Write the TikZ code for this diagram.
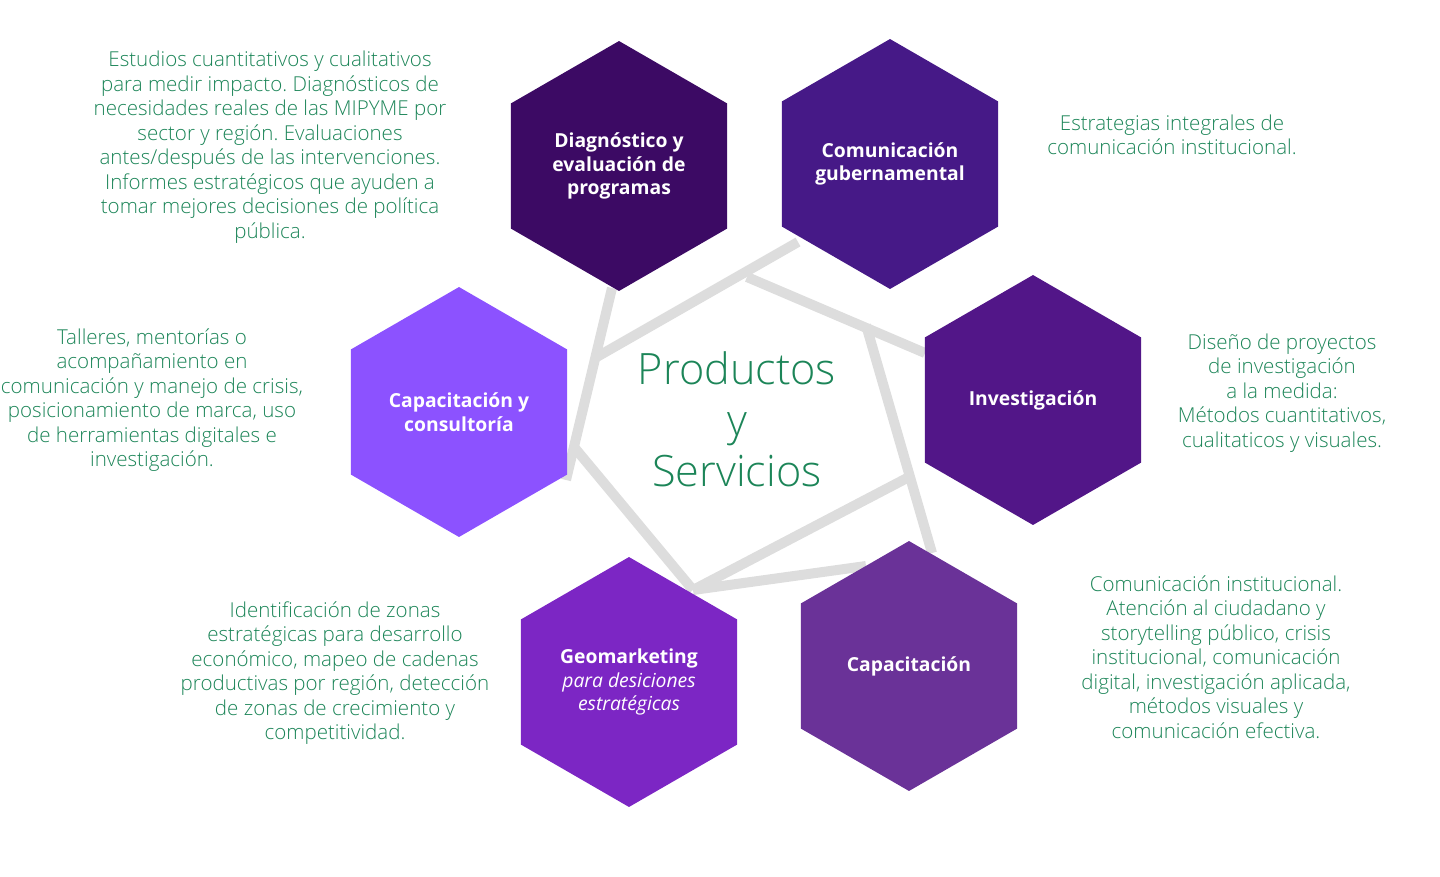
\documentclass[tikz,border=0pt]{standalone}
\usepackage{fontspec}
\setmainfont{Open Sans}
\newfontfamily\lightfont{Open Sans Light}
\usepackage{xcolor}
\usetikzlibrary{shapes.geometric}

\definecolor{txtgreen}{RGB}{28,133,88}
\definecolor{linegray}{RGB}{221,221,221}
\definecolor{hexA}{RGB}{60,10,100}
\definecolor{hexB}{RGB}{70,25,135}
\definecolor{hexC}{RGB}{82,22,136}
\definecolor{hexD}{RGB}{106,50,152}
\definecolor{hexE}{RGB}{124,38,196}
\definecolor{hexF}{RGB}{140,82,255}

\frenchspacing

\begin{document}
\begin{tikzpicture}[
  x=0.02cm, y=-0.02cm,
  every node/.style={font=\lightfont\fontsize{11.7}{13.95}\selectfont},
  hexa/.style={regular polygon, regular polygon sides=6, shape border rotate=30,
    minimum size=5cm, inner sep=0pt, outer sep=0pt, align=center, text=white,
    font=\bfseries\fontsize{11}{13.3}\selectfont},
  desc/.style={align=center, text=txtgreen},
  link/.style={draw=linegray, line width=0.2cm},
]

\useasboundingbox (0,0) rectangle (1440,876);

\coordinate (j1) at (798,242);
\coordinate (j2) at (595,358);
\coordinate (j3) at (612,288);
\coordinate (j4) at (566,480);
\coordinate (j5) at (574,447);
\coordinate (j6) at (693,590);
\coordinate (j7) at (909,477);
\coordinate (j8) at (866,566);
\coordinate (j9) at (747,277);
\coordinate (j10) at (925,353);
\coordinate (j11) at (866,325);
\coordinate (j12) at (932,553);

\draw[link] (j1) -- (j2);
\draw[link] (j3) -- (j4);
\draw[link] (j5) -- (j6);
\draw[link] (j6) -- (j7);
\draw[link] (j6) -- (j8);
\draw[link] (j9) -- (j10);
\draw[link] (j11) -- (j12);

\node[hexa, fill=hexA] (diag) at (619,166) {Diagnóstico y\\evaluación de\\programas};
\node[hexa, fill=hexB] (gob) at (890,164) {Comunicación\\gubernamental};
\node[hexa, fill=hexC] (inv) at (1033,400) {Investigación};
\node[hexa, fill=hexD] (cap) at (909,666) {Capacitación};
\node[hexa, fill=hexE] (geo) at (629,682) {Geomarketing\\{\mdseries\itshape para desiciones}\\{\mdseries\itshape estratégicas}};
\node[hexa, fill=hexF] (cons) at (459,412) {Capacitación y\\consultoría};

\node[desc, font=\lightfont\fontsize{24.6}{29}\selectfont] (title) at (737,419) {Productos\\y\\Servicios};

\node[desc] (diagtxt) at (270,147) {Estudios cuantitativos y cualitativos\\para medir impacto. Diagnósticos de\\necesidades reales de las MIPYME por\\sector y región. Evaluaciones\\antes/después de las intervenciones.\\Informes estratégicos que ayuden a\\tomar mejores decisiones de política\\pública.};

\node[desc] (gobtxt) at (1172,135) {Estrategias integrales de\\comunicación institucional.};

\node[desc] (invtxt) at (1282,393) {Diseño de proyectos\\de investigación\\a la medida:\\Métodos cuantitativos,\\cualitaticos y visuales.};

\node[desc] (captxt) at (1216,657) {Comunicación institucional.\\Atención al ciudadano y\\storytelling público, crisis\\institucional, comunicación\\digital, investigación aplicada,\\métodos visuales y\\comunicación efectiva.};

\node[desc] (geotxt) at (335,673) {Identificación de zonas\\estratégicas para desarrollo\\económico, mapeo de cadenas\\productivas por región, detección\\de zonas de crecimiento y\\competitividad.};

\node[desc] (constxt) at (152,400) {Talleres, mentorías o\\acompañamiento en\\comunicación y manejo de crisis,\\posicionamiento de marca, uso\\de herramientas digitales e\\investigación.};

\end{tikzpicture}
\end{document}
